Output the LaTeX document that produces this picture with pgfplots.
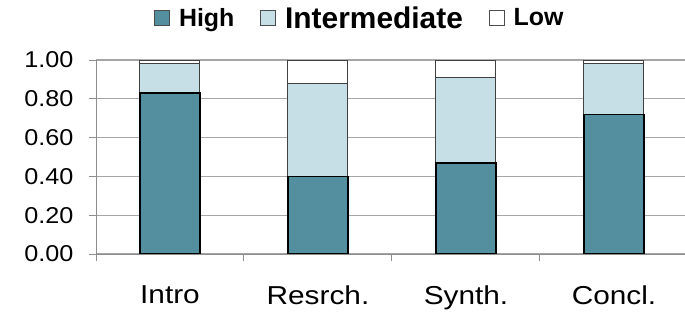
\documentclass[border=0pt]{standalone}
\usepackage{pgfplots}
\pgfplotsset{compat=1.18}
\usepackage{fontspec}
\setmainfont{Liberation Sans}
\newfontfamily\ytf[FakeStretch=1.1]{Liberation Sans}
\newfontfamily\xtf[FakeStretch=1.15]{Liberation Sans}
\definecolor{hi}{HTML}{548FA0}
\definecolor{mid}{HTML}{C6DEE5}
\definecolor{gridc}{HTML}{A6A6A6}
\begin{document}
\begin{tikzpicture}
\path[use as bounding box] (0,0) rectangle (685bp,312bp);
\begin{axis}[
  at={(96bp,58bp)}, anchor=south west, scale only axis,
  width=589bp, height=194bp,
  ybar stacked, bar width=60bp,
  xmin=-0.5, xmax=3.48, ymin=0, ymax=1,
  axis x line*=bottom, axis y line*=left,
  axis line style={gridc!85!black, line width=1pt, -},
  tick align=outside,
  xtick={-0.5,0.5,1.5,2.5}, xticklabels={},
  extra x ticks={0,1,2,3},
  extra x tick labels={Intro,Resrch.,Synth.,Concl.},
  extra x tick style={major tick length=0pt, grid=none},
  x tick label style={font=\xtf\fontsize{26}{26}\selectfont, yshift=-28bp},
  major tick length=7bp,
  tick style={gridc!85!black, line width=1pt},
  ytick={0,0.2,0.4,0.6,0.8,1},
  ymajorgrids, grid style={gridc, line width=1.2pt},
  y tick label style={font=\ytf\fontsize{23}{23}\selectfont, xshift=-12bp, /pgf/number format/.cd, fixed, fixed zerofill, precision=2, assume math mode=true},
  legend style={at={(0.448,1.216)}, anchor=center, draw=none, fill=none,
    legend columns=3,
    /tikz/every odd column/.append style={column sep=7bp},
    /tikz/every even column/.append style={column sep=24bp},
    nodes={inner sep=2bp}},
  legend image code/.code={\draw[#1, line width=0.8pt, draw=black!70] (0bp,-7.5bp) rectangle (15bp,7.5bp);},
]
\addplot[fill=hi, draw=black, line width=1.5pt] coordinates {(0,0.83) (1,0.40) (2,0.47) (3,0.72)};
\addlegendentry{\fontsize{25}{25}\selectfont\bfseries High}
\addplot[fill=mid, draw=black!75, line width=1pt] coordinates {(0,0.15) (1,0.48) (2,0.44) (3,0.26)};
\addlegendentry{\fontsize{30}{30}\selectfont\bfseries Intermediate}
\addplot[fill=white, draw=black!75, line width=1pt] coordinates {(0,0.02) (1,0.12) (2,0.09) (3,0.02)};
\addlegendentry{\fontsize{25}{25}\selectfont\bfseries Low}
\end{axis}
\end{tikzpicture}
\end{document}
